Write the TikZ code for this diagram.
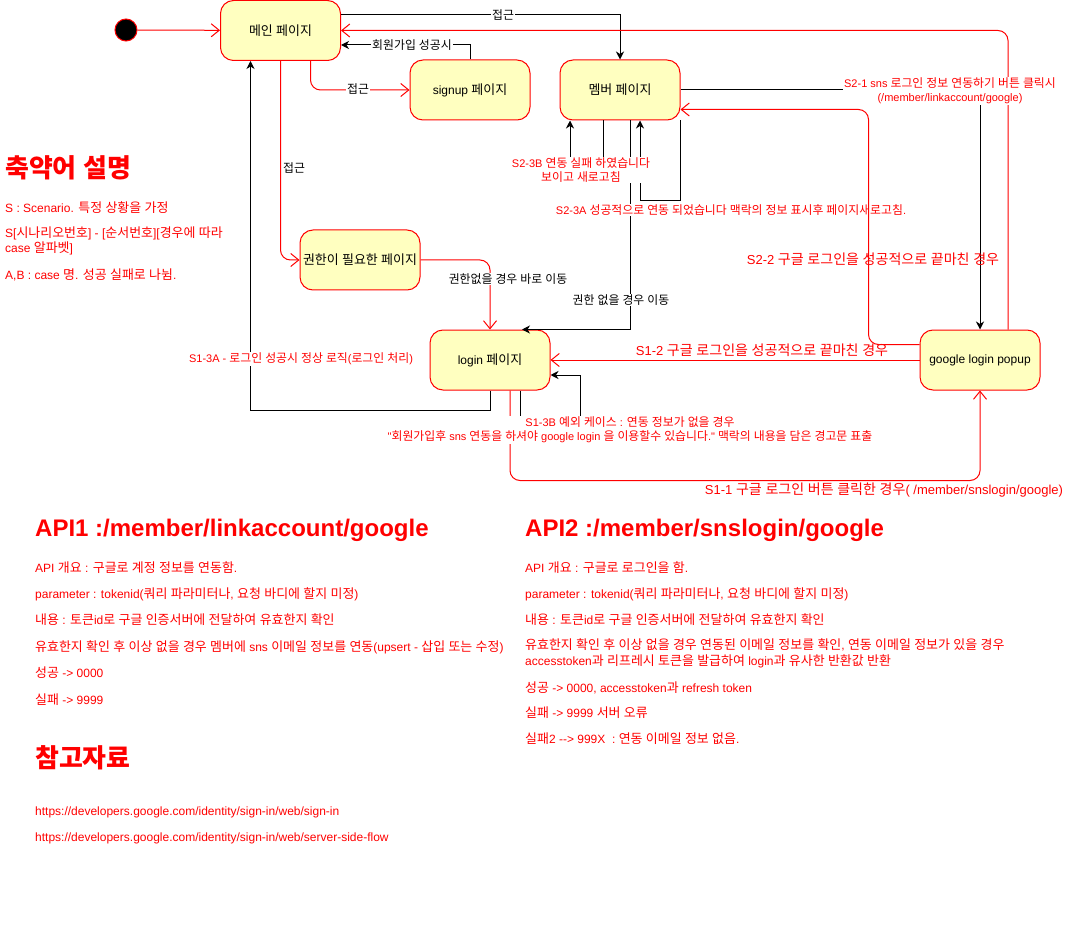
\documentclass[tikz,border=0pt]{standalone}
\usepackage{fontspec}
\setmainfont{Liberation Sans}
\newfontfamily\krfont{Noto Sans CJK KR}[Scale=1.08]
\newfontfamily\qfont{Liberation Sans}[Ligatures=TeXOff]
\usetikzlibrary{arrows.meta}
\XeTeXinterchartokenstate=1
\chardef\hangulclass=10
\count255="AC00
\loop
  \XeTeXcharclass\count255=\hangulclass
  \advance\count255 by 1
\ifnum\count255<"D7A4 \repeat
\makeatletter
\def\krsavedfam{\familydefault}
\XeTeXinterchartoks 0 \hangulclass={\edef\krsavedfam{\f@family}\krfont}
\XeTeXinterchartoks 4095 \hangulclass={\edef\krsavedfam{\f@family}\krfont}
\XeTeXinterchartoks \hangulclass 0={\fontfamily{\krsavedfam}\selectfont}
\XeTeXinterchartoks \hangulclass 4095={\fontfamily{\krsavedfam}\selectfont}
\makeatother
\definecolor{statefill}{HTML}{FFFFC0}
\definecolor{rd}{HTML}{FF0000}
\newcommand\sq{{\qfont\symbol{34}}}
\begin{document}
\begin{tikzpicture}[x=1pt,y=-1pt,
  stbox/.style={draw=rd, fill=statefill, line width=1pt, rounded corners=13pt, minimum width=120pt, minimum height=60pt, inner sep=0pt, font=\fontsize{12}{14}\selectfont, text=black},
  rline/.style={draw=rd, line width=1pt, rounded corners=10pt, -{Straight Barb[length=8pt,width=13pt]}},
  bline/.style={draw=black, line width=1pt, -{Stealth[length=8pt,width=8pt,inset=2.5pt]}},
  lbl/.style={font=\fontsize{11}{14}\selectfont, inner sep=1pt, fill=white, text=black},
  rlbl/.style={lbl, text=rd},
  rbig/.style={font=\fontsize{13}{15}\selectfont, inner sep=1pt, text=rd},
  txt/.style={anchor=west, text=rd, font=\fontsize{12}{16.5}\selectfont, inner sep=0pt},
  ttl/.style={anchor=west, text=rd, font=\fontsize{24}{28}\selectfont\bfseries, inner sep=0pt}
]
\fill[white] (0,0) rectangle (1068,941);
\useasboundingbox (0,0) rectangle (1068,941);

% states
\node[circle, fill=black, draw=rd, line width=1pt, minimum size=22pt, inner sep=0pt] (start) at (126,30) {};
\node[stbox] (main) at (280.5,30.5) {메인 페이지};
\node[stbox] (signup) at (470,90) {signup 페이지};
\node[stbox] (member) at (620,90) {멤버 페이지};
\node[stbox] (auth) at (360,260) {권한이 필요한 페이지};
\node[stbox] (login) at (490,360) {login 페이지};
\node[stbox] (google) at (980,360) {google login popup};

% connectors
\draw[rline] (start) -- (main);
\draw[bline] ([yshift=-15pt]main.north east) -| (member.north);
\draw[rline] ([xshift=28pt]google.north) |- (main.east);
\draw[bline] (signup.north) |- ([yshift=-45pt]main.north east);
\draw[rline] ([xshift=30pt]main.south) |- (signup.west);
\draw[rline] (main.south) |- (auth.west);
\draw[rline] (auth.east) -| (login.north);
\draw[bline] (login.south) -- ++(0,20) -| ([xshift=-30pt]main.south);
\draw[bline] ([xshift=10pt]member.south) |- ([xshift=32pt]login.north);
\draw[bline] (member.east) -| (google.north);
\draw[rline] (google.west) -- (login.east);
\draw[rline] ([xshift=20pt]login.south) -- ++(0,90) -| (google.south);
\draw[bline] ([xshift=30pt]login.south) -- ++(0,40) -- ++(60,0) |- ([yshift=-15pt]login.east);
\draw[bline] ([xshift=-17pt]member.south) -- ++(0,45) -| ([xshift=-50pt]member.south);
\draw[bline] ([xshift=60pt]member.south) -- ++(0,80) -| ([xshift=20pt]member.south);

% connector labels
\node[lbl] (l1) at (503,15) {접근};
\node[lbl] (l2) at (412,45) {회원가입 성공시};
\node[lbl] (l3) at (358,89) {접근};
\node[lbl, fill=none] (l4) at (294,168) {접근};
\node[lbl] (l5) at (508,279) {권한없을 경우 바로 이동};
\node[lbl] (l6) at (621,300) {권한 없을 경우 이동};
\node[rlbl, align=center] (l7) at (581,170) {S2-3B 연동 실패 하였습니다\\보이고 새로고침};
\node[rlbl] (l8) at (731,210) {S2-3A 성공적으로 연동 되었습니다 맥락의 정보 표시후 페이지새로고침.};
\node[rlbl, align=center] (l9) at (950,91) {S2-1 sns 로그인 정보 연동하기 버튼 클릭시\\(/member/linkaccount/google)};
\node[rlbl] (l12) at (301,359) {S1-3A - 로그인 성공시 정상 로직(로그인 처리)};
\node[rlbl, align=center] (l13) at (630,430) {S1-3B 예외 케이스 : 연동 정보가 없을 경우\\\sq 회원가입후 sns 연동을 하셔야 google login 을 이용할수 있습니다.\sq{} 맥락의 내용을 담은 경고문 표출};
\node[rbig] (l10) at (873,259) {S2-2 구글 로그인을 성공적으로 끝마친 경우};
\node[rbig] (l11) at (762,350) {S1-2 구글 로그인을 성공적으로 끝마친 경우};
\node[rbig] (l14) at (884,490) {S1-1 구글 로그인 버튼 클릭한 경우( /member/snslogin/google)};

\draw[rline] ([yshift=-15pt]google.north west) -- ++(-51,0) |- ([yshift=-50pt]member.north east);

% legend
\node[ttl] (t0) at (5,168) {축약어 설명};
\node[txt] (t1) at (5,208) {S : Scenario. 특정 상황을 가정};
\node[txt, align=left, font=\fontsize{12}{15}\selectfont] (t2) at (5,240.5) {S[시나리오번호] - [순서번호][경우에 따라\\case 알파벳]};
\node[txt] (t3) at (5,275) {A,B : case 명. 성공 실패로 나뉨.};

% API1
\node[ttl] (a0) at (35,530) {API1 :/member/linkaccount/google};
\node[txt] (a1) at (35,568) {API 개요 : 구글로 계정 정보를 연동함.};
\node[txt] (a2) at (35,594) {parameter : tokenid(쿼리 파라미터나, 요청 바디에 할지 미정)};
\node[txt] (a3) at (35,620) {내용 : 토큰id로 구글 인증서버에 전달하여 유효한지 확인};
\node[txt] (a4) at (35,647) {유효한지 확인 후 이상 없을 경우 멤버에 sns 이메일 정보를 연동(upsert - 삽입 또는 수정)};
\node[txt] (a5) at (35,673) {성공 -> 0000};
\node[txt] (a6) at (35,700) {실패 -> 9999};

% API2
\node[ttl] (b0) at (525,530) {API2 :/member/snslogin/google};
\node[txt] (b1) at (525,568) {API 개요 : 구글로 로그인을 함.};
\node[txt] (b2) at (525,594) {parameter : tokenid(쿼리 파라미터나, 요청 바디에 할지 미정)};
\node[txt] (b3) at (525,620) {내용 : 토큰id로 구글 인증서버에 전달하여 유효한지 확인};
\node[txt, align=left] (b4) at (525,653.5) {유효한지 확인 후 이상 없을 경우 연동된 이메일 정보를 확인, 연동 이메일 정보가 있을 경우\\accesstoken과 리프레시 토큰을 발급하여 login과 유사한 반환값 반환};
\node[txt] (b5) at (525,688) {성공 -> 0000, accesstoken과 refresh token};
\node[txt] (b6) at (525,713) {실패 -> 9999 서버 오류};
\node[txt] (b7) at (525,739) {실패2 -{}-> 999X\ \ : 연동 이메일 정보 없음.};

% references
\node[ttl] (c0) at (35,758) {참고자료};
\node[txt] (c1) at (35,812) {https://developers.google.com/identity/sign-in/web/sign-in};
\node[txt] (c2) at (35,838) {https://developers.google.com/identity/sign-in/web/server-side-flow};
\end{tikzpicture}
\end{document}
